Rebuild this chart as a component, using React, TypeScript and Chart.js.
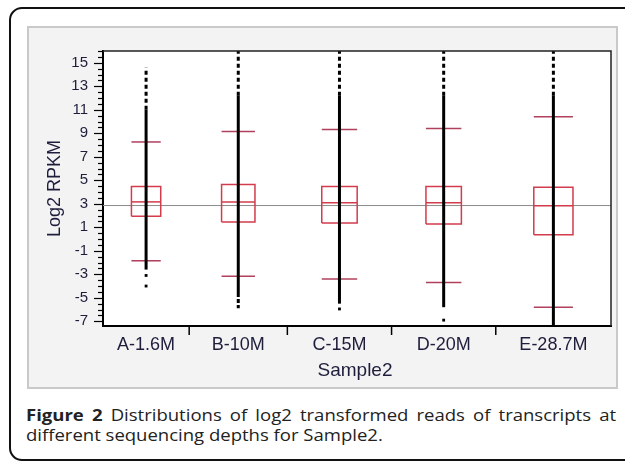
import React, { useEffect, useRef } from "react";
import { Chart, registerables } from "chart.js";

Chart.register(...registerables);

// ---- data ----
const categories = ["A-1.6M", "B-10M", "C-15M", "D-20M", "E-28.7M"];
// relative group sizes (JMP draws category widths proportional to N)
const groupWeights = [86, 98, 104, 104, 115];
const q1 = [1.93, 1.44, 1.36, 1.27, 0.37];
const medians = [3.16, 3.16, 3.08, 3.08, 2.84];
const q3 = [4.48, 4.64, 4.48, 4.48, 4.4];
const whiskerHigh = [8.26, 9.16, 9.33, 9.4, 10.4];
const whiskerLow = [-1.85, -3.16, -3.4, -3.7, -5.8];
const denseHigh = [11.0, 12.2, 12.2, 12.2, 12.2];
const denseLow = [-2.6, -4.6, -5.5, -5.8, -7.4];
const sparseHigh = [14.6, 16, 16, 16, 16];
const sparseLow = [-2.6, -5.9, -5.5, -5.8, -7.4];
const lowOutliers: number[][] = [[-3.1, -4.0], [], [-5.95], [-6.9], []];
const grandMean = 2.85;
const yTickValues = [-7, -5, -3, -1, 1, 3, 5, 7, 9, 11, 13, 15];
const yMin = -7.4;
const yMax = 16;
const xTitle = "Sample2";
const yTitle = "Log2 RPKM";

const TEXT = "#1e1e3c";
const FONT = "'Liberation Sans', Arial, sans-serif";

export default function App() {
  const ref = useRef<HTMLCanvasElement | null>(null);

  useEffect(() => {
    const canvas = ref.current;
    if (!canvas) return;

    const total = groupWeights.reduce((a, b) => a + b, 0);
    const bounds: number[] = [0];
    groupWeights.forEach((w, i) => bounds.push(bounds[i] + w));
    const centers = groupWeights.map((w, i) => bounds[i] + w / 2);

    const seg = (pts: { x: number; y: number }[], color: string, width: number, order: number, dash?: number[]) => ({
      type: "line" as const,
      data: pts,
      borderColor: color,
      backgroundColor: color,
      borderWidth: width,
      borderDash: dash || [],
      borderCapStyle: "butt" as const,
      pointRadius: 0,
      fill: false,
      tension: 0,
      order,
    });

    const datasets: any[] = [];
    datasets.push(seg([{ x: 0, y: grandMean }, { x: total, y: grandMean }], "#8c8c8c", 1, 9));
    categories.forEach((_, i) => {
      const c = centers[i];
      const hw = groupWeights[i] * 0.17;
      const l = c - hw;
      const r = c + hw;
      datasets.push(seg([{ x: l, y: q1[i] }, { x: r, y: q1[i] }, { x: r, y: q3[i] }, { x: l, y: q3[i] }, { x: l, y: q1[i] }], "#d23c4c", 1.5, 5));
      datasets.push(seg([{ x: l, y: medians[i] }, { x: r, y: medians[i] }], "#d23c4c", 1.5, 5));
      datasets.push(seg([{ x: l, y: whiskerHigh[i] }, { x: r, y: whiskerHigh[i] }], "#b0405c", 1.5, 5));
      datasets.push(seg([{ x: l, y: whiskerLow[i] }, { x: r, y: whiskerLow[i] }], "#b0405c", 1.5, 5));
      datasets.push(seg([{ x: c, y: denseLow[i] }, { x: c, y: denseHigh[i] }], "#000", 3, 1));
      datasets.push(seg([{ x: c, y: denseHigh[i] }, { x: c, y: sparseHigh[i] }], "#000", 3, 1, [4, 3]));
      if (sparseLow[i] !== denseLow[i]) {
        datasets.push(seg([{ x: c, y: denseLow[i] }, { x: c, y: sparseLow[i] }], "#000", 3, 1, [4, 2]));
      }
      if (lowOutliers[i].length) {
        datasets.push({
          type: "scatter",
          data: lowOutliers[i].map((v) => ({ x: c, y: v })),
          pointStyle: "rect",
          pointRadius: 2,
          pointBorderWidth: 0,
          pointBackgroundColor: "#000",
          borderColor: "#000",
          backgroundColor: "#000",
          order: 1,
        });
      }
    });

    const decor = {
      id: "decor",
      beforeDraw(chart: any) {
        const { ctx, chartArea: a } = chart;
        ctx.save();
        ctx.fillStyle = "#ffffff";
        ctx.fillRect(a.left, a.top, a.right - a.left, a.bottom - a.top);
        ctx.restore();
      },
      afterDraw(chart: any) {
        const { ctx, chartArea: a, scales } = chart;
        const ys = scales.y;
        const xs = scales.x;
        ctx.save();
        // top / right frame
        ctx.strokeStyle = "#222";
        ctx.lineWidth = 1.5;
        ctx.beginPath();
        ctx.moveTo(a.left, a.top);
        ctx.lineTo(a.right, a.top);
        ctx.lineTo(a.right, a.bottom);
        ctx.stroke();
        // y ticks: major at labels, minor every 0.5
        ctx.strokeStyle = "#000";
        ctx.lineWidth = 1.2;
        for (let k = Math.ceil(yMin * 2); k <= Math.floor(yMax * 2); k++) {
          const v = k / 2;
          const py = Math.round(ys.getPixelForValue(v)) + 0.5;
          const major = yTickValues.includes(v);
          const len = major ? 9 : 5;
          ctx.beginPath();
          ctx.moveTo(a.left - len, py);
          ctx.lineTo(a.left, py);
          ctx.stroke();
        }
        // x boundary ticks
        ctx.lineWidth = 1.5;
        for (let i = 1; i < bounds.length - 1; i++) {
          const px = xs.getPixelForValue(bounds[i]);
          ctx.beginPath();
          ctx.moveTo(px, a.bottom);
          ctx.lineTo(px, a.bottom + 9);
          ctx.stroke();
        }
        // titles
        ctx.fillStyle = TEXT;
        ctx.font = `19px ${FONT}`;
        ctx.textAlign = "center";
        ctx.textBaseline = "alphabetic";
        ctx.fillText(xTitle, (a.left + a.right) / 2 - 2, 349);
        ctx.font = `18px ${FONT}`;
        ctx.translate(32, (a.top + a.bottom) / 2);
        ctx.rotate(-Math.PI / 2);
        ctx.fillText(yTitle, 0, 0);
        ctx.restore();
      },
    };

    const chart = new Chart(canvas, {
      type: "scatter",
      data: { datasets },
      options: {
        animation: false,
        responsive: false,
        events: [],
        layout: { padding: { left: 0, top: 15, right: 6, bottom: 0 } },
        plugins: { legend: { display: false }, tooltip: { enabled: false }, title: { display: false } },
        scales: {
          x: {
            type: "linear",
            min: 0,
            max: total,
            grid: { display: false, drawTicks: false },
            border: { display: true, color: "#000", width: 2 },
            afterBuildTicks: (scale: any) => {
              scale.ticks = centers.map((v) => ({ value: v }));
            },
            afterFit: (scale: any) => {
              scale.height = 62;
            },
            ticks: {
              autoSkip: false,
              maxRotation: 0,
              padding: 8,
              color: TEXT,
              font: { family: FONT, size: 18 },
              callback: (_v: any, i: number) => categories[i],
            },
          },
          y: {
            type: "linear",
            min: yMin,
            max: yMax,
            grid: { display: false, drawTicks: false },
            border: { display: true, color: "#000", width: 2 },
            afterBuildTicks: (scale: any) => {
              scale.ticks = yTickValues.map((v) => ({ value: v }));
            },
            afterFit: (scale: any) => {
              scale.width = 75;
            },
            ticks: {
              padding: 15,
              color: TEXT,
              font: { family: FONT, size: 15 },
              callback: (v: any) => String(v),
            },
          },
        },
      },
      plugins: [decor],
    } as any);

    return () => chart.destroy();
  }, []);

  return (
    <div style={{ position: "absolute", left: 0, top: 0, width: 625, height: 462, overflow: "hidden", background: "#fff" }}>
      <div
        style={{
          position: "absolute",
          left: 9,
          top: 7,
          width: 700,
          height: 454,
          boxSizing: "border-box",
          border: "2px solid #111",
          borderRadius: 13,
        }}
      />
      <div
        style={{
          position: "absolute",
          left: 27,
          top: 26,
          width: 591,
          height: 363,
          boxSizing: "border-box",
          border: "2px solid #c9c9c9",
          background: "#f3f3f3",
        }}
      />
      <canvas ref={ref} width={589} height={361} style={{ position: "absolute", left: 28, top: 27, width: 589, height: 361 }} />
      <div
        style={{
          position: "absolute",
          left: 26,
          top: 405,
          width: 510,
          transform: "scaleX(1.157)",
          transformOrigin: "0 0",
          fontFamily: "'Open Sans', sans-serif",
          fontSize: 16,
          lineHeight: "20px",
          color: "#222",
        }}
      >
        <div style={{ textAlign: "justify", textAlignLast: "justify" as any, whiteSpace: "nowrap" }}>
          <b>Figure 2</b> Distributions of log2 transformed reads of transcripts at
        </div>
        <div>different sequencing depths for Sample2.</div>
      </div>
    </div>
  );
}
